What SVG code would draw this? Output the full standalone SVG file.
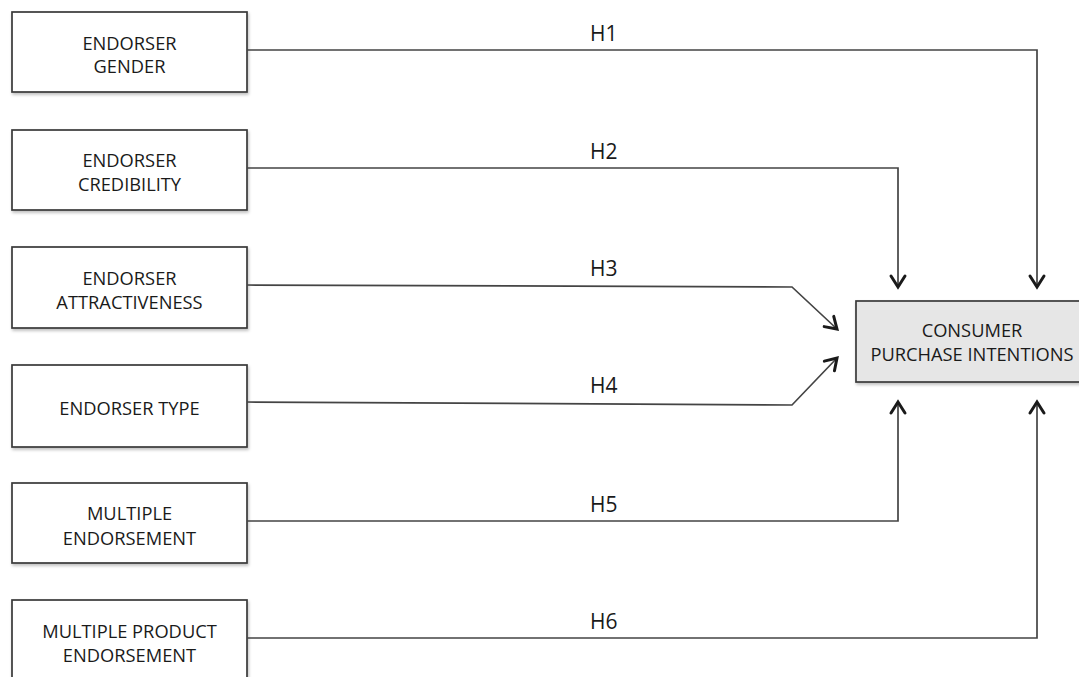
<svg xmlns="http://www.w3.org/2000/svg" width="1079" height="677" viewBox="0 0 1079 677">
<style>
.box{fill:#ffffff;stroke:#3a3a3a;stroke-width:1.7}
.target{fill:#e6e6e6;stroke:#3a3a3a;stroke-width:1.7}
.t{font-family:"Open Sans","Liberation Sans",sans-serif;font-size:18.3px;font-weight:500;fill:#1a1a1a;text-anchor:middle}
.h{font-family:"Open Sans","Liberation Sans",sans-serif;font-size:21px;font-weight:500;fill:#1a1a1a}
.c{fill:none;stroke:#444;stroke-width:1.7}
</style>
<defs>
<filter id="sh" x="-5%" y="-5%" width="115%" height="125%">
<feDropShadow dx="1" dy="2" stdDeviation="1.5" flood-color="#000" flood-opacity="0.25"/>
</filter>
<marker id="ah" markerUnits="userSpaceOnUse" markerWidth="20" markerHeight="20" viewBox="-14 -10 18 20" refX="0" refY="0" orient="auto">
<path d="M-11,-7 L0,0 L-11,7" fill="none" stroke="#1a1a1a" stroke-width="3" stroke-linecap="round" stroke-linejoin="miter"/>
</marker>
</defs>
<rect width="1079" height="677" fill="#fff"/>

<g id="n1"><rect class="box" x="12" y="12" width="235" height="80" filter="url(#sh)"/><text class="t" x="129.5" y="50">ENDORSER</text><text class="t" x="129.5" y="73">GENDER</text></g>
<g id="n2"><rect class="box" x="12" y="130" width="235" height="80" filter="url(#sh)"/><text class="t" x="129.5" y="167">ENDORSER</text><text class="t" x="129.5" y="191">CREDIBILITY</text></g>
<g id="n3"><rect class="box" x="12" y="247" width="235" height="81" filter="url(#sh)"/><text class="t" x="129.5" y="285">ENDORSER</text><text class="t" x="129.5" y="309">ATTRACTIVENESS</text></g>
<g id="n4"><rect class="box" x="12" y="365" width="235" height="82" filter="url(#sh)"/><text class="t" x="129.5" y="415">ENDORSER TYPE</text></g>
<g id="n5"><rect class="box" x="12" y="483" width="235" height="80" filter="url(#sh)"/><text class="t" x="129.5" y="520">MULTIPLE</text><text class="t" x="129.5" y="545">ENDORSEMENT</text></g>
<g id="n6"><rect class="box" x="12" y="600" width="235" height="82" filter="url(#sh)"/><text class="t" x="129.5" y="638">MULTIPLE PRODUCT</text><text class="t" x="129.5" y="662">ENDORSEMENT</text></g>
<g id="target"><rect class="target" x="856" y="301" width="240" height="81" filter="url(#sh)"/><text class="t" x="972" y="337">CONSUMER</text><text class="t" x="972" y="361">PURCHASE INTENTIONS</text></g>

<g id="connectors">
<path class="c" d="M247,50 L1037,50 L1037,287" marker-end="url(#ah)"/>
<path class="c" d="M247,168 L898,168 L898,287" marker-end="url(#ah)"/>
<path class="c" d="M247,285 L792,287 L837,329" marker-end="url(#ah)"/>
<path class="c" d="M247,402 L792,405 L837,358" marker-end="url(#ah)"/>
<path class="c" d="M247,521 L898,521 L898,402" marker-end="url(#ah)"/>
<path class="c" d="M247,638 L1037,638 L1037,402" marker-end="url(#ah)"/>
<text class="h" x="590" y="41">H1</text>
<text class="h" x="590" y="159">H2</text>
<text class="h" x="590" y="276">H3</text>
<text class="h" x="590" y="393">H4</text>
<text class="h" x="590" y="512">H5</text>
<text class="h" x="590" y="629">H6</text>
</g>
</svg>
